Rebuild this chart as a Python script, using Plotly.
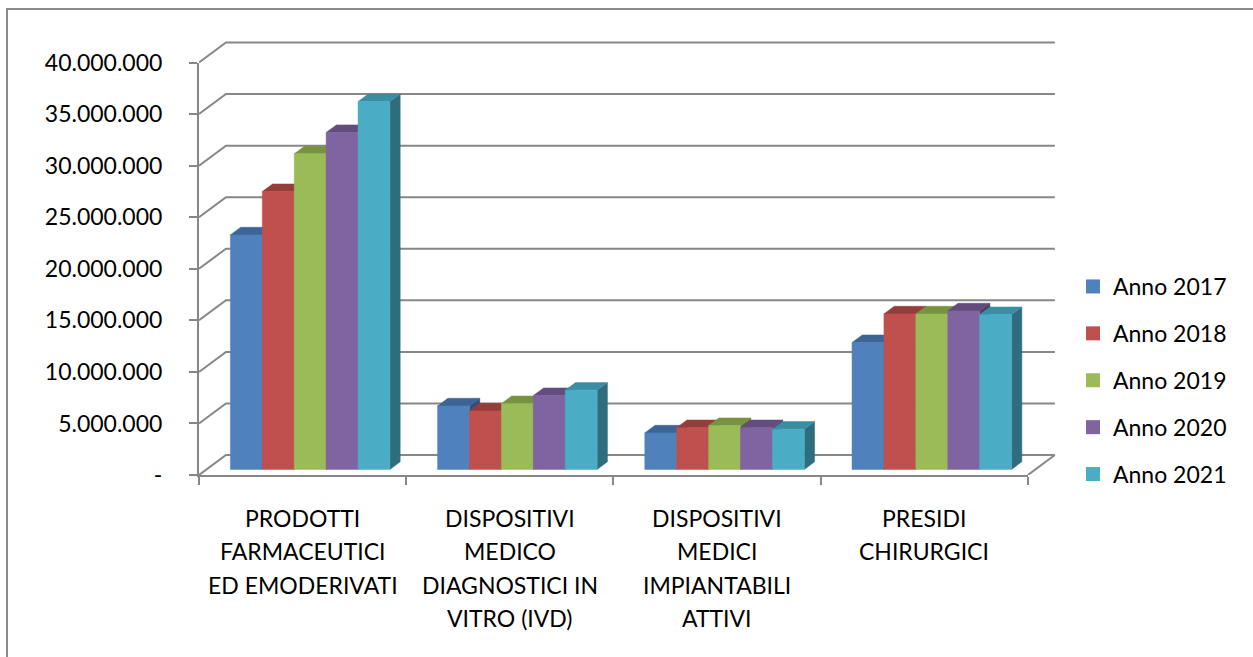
import plotly.graph_objects as go

# ---- data -------------------------------------------------------------
category_lines = [
    ["PRODOTTI", "FARMACEUTICI", "ED EMODERIVATI"],
    ["DISPOSITIVI", "MEDICO", "DIAGNOSTICI IN", "VITRO (IVD)"],
    ["DISPOSITIVI", "MEDICI", "IMPIANTABILI", "ATTIVI"],
    ["PRESIDI", "CHIRURGICI"],
]
series_names = ["Anno 2017", "Anno 2018", "Anno 2019", "Anno 2020", "Anno 2021"]
anno_2017 = [22_740_000, 6_160_000, 3_540_000, 12_300_000]
anno_2018 = [26_940_000, 5_670_000, 4_050_000, 15_080_000]
anno_2019 = [30_600_000, 6_380_000, 4_250_000, 15_080_000]
anno_2020 = [32_670_000, 7_160_000, 4_050_000, 15_370_000]
anno_2021 = [35_670_000, 7_680_000, 3_900_000, 15_010_000]
series_values = [anno_2017, anno_2018, anno_2019, anno_2020, anno_2021]
tick_vals = [0, 5_000_000, 10_000_000, 15_000_000, 20_000_000,
             25_000_000, 30_000_000, 35_000_000, 40_000_000]
tick_text = ["-", "5.000.000", "10.000.000", "15.000.000", "20.000.000",
             "25.000.000", "30.000.000", "35.000.000", "40.000.000"]

# ---- style ------------------------------------------------------------
front_colors = ["#4F81BD", "#C0504D", "#9BBB59", "#8064A2", "#4BACC6"]
top_colors = ["#3C6596", "#953D3A", "#78933F", "#634D7E", "#3A8EA3"]
side_colors = ["#2F5077", "#76302E", "#5F7532", "#4E3D64", "#2E6D7E"]
GRID = "#878787"
FONT = "Lato"

W, H = 1253, 657
ML, MT, MB = 199, 35, 182
N = len(category_lines)
VMAX = tick_vals[-1]
XR = 4.16                      # x range in category units (front axis + depth)
PX_PER_CAT = 207.25
MR = W - ML - round(XR * PX_PER_CAT)
PLOT_H = H - MT - MB
PX_PER_VAL = 412.5 / VMAX
YR = PLOT_H / PX_PER_VAL

# oblique projection of the depth axis
DX = 27 / PX_PER_CAT
DY = 20 / PX_PER_VAL
BAR_FRONT, BAR_BACK = 0.28, 0.66   # depth fractions occupied by the bars
BAR_OFF, BAR_W = 0.115, 0.154      # within a category slot

fig = go.Figure()

# back wall + floor grid with connectors to the front axis
gx, gy = [], []
for v in tick_vals:
    gx += [0, DX, N + DX, None]
    gy += [v, v + DY, v + DY, None]
gx += [N, N + DX, None]
gy += [0, DY, None]
fig.add_trace(go.Scatter(x=gx, y=gy, mode="lines", line=dict(color=GRID, width=2),
                         hoverinfo="skip", showlegend=False))

# bars: side, top, front faces
fx0, fy0 = BAR_FRONT * DX, BAR_FRONT * DY
ddx, ddy = (BAR_BACK - BAR_FRONT) * DX, (BAR_BACK - BAR_FRONT) * DY
for j, vals in enumerate(series_values):
    sx, sy, tx, ty, qx, qy = [], [], [], [], [], []
    for i, v in enumerate(vals):
        x0 = i + BAR_OFF + j * BAR_W + fx0
        x1 = x0 + BAR_W
        y0 = fy0
        y1 = fy0 + v
        qx += [x0, x1, x1, x0, x0, None]
        qy += [y0, y0, y1, y1, y0, None]
        tx += [x0, x1, x1 + ddx, x0 + ddx, x0, None]
        ty += [y1, y1, y1 + ddy, y1 + ddy, y1, None]
        sx += [x1, x1 + ddx, x1 + ddx, x1, x1, None]
        sy += [y0, y0 + ddy, y1 + ddy, y1, y0, None]
    for xs, ys, col in ((sx, sy, side_colors[j]), (tx, ty, top_colors[j]),
                        (qx, qy, front_colors[j])):
        fig.add_trace(go.Scatter(x=xs, y=ys, mode="lines", fill="toself",
                                 fillcolor=col, line=dict(color=col, width=0.5),
                                 hoverinfo="skip", showlegend=False))

# legend entries
for j, name in enumerate(series_names):
    fig.add_trace(go.Scatter(x=[None], y=[None], mode="markers", name=name,
                             legendgroup=name,
                             marker=dict(symbol="square", size=14, color=front_colors[j])))

# front axes live on their own subplot so their lines stop at the data extent
fig.add_trace(go.Scatter(x=[None], y=[None], xaxis="x2", yaxis="y2",
                         showlegend=False, hoverinfo="skip"))

# category labels, one annotation per line
for i, lines in enumerate(category_lines):
    for k, line in enumerate(lines):
        fig.add_annotation(x=i + 0.5, xref="x2", y=0, yref="paper",
                           yanchor="top", yshift=-27 - 33.3 * k, text=line,
                           showarrow=False, font=dict(family=FONT, size=23, color="#000"))

# outer chart frame (left and top edges)
PW = W - ML - MR
def px_x(p):
    return (p - ML) / PW
def px_y(p):
    return (H - MB - p) / PLOT_H
fig.add_shape(type="line", xref="paper", yref="paper",
              x0=px_x(7), x1=px_x(7), y0=px_y(9), y1=px_y(H + 5),
              line=dict(color="#8a8a8a", width=2))
fig.add_shape(type="line", xref="paper", yref="paper",
              x0=px_x(6), x1=px_x(W + 5), y0=px_y(9), y1=px_y(9),
              line=dict(color="#8a8a8a", width=2))

fig.update_layout(
    width=W, height=H,
    margin=dict(l=ML, r=MR, t=MT, b=MB, pad=0),
    paper_bgcolor="white", plot_bgcolor="rgba(0,0,0,0)",
    font=dict(family=FONT, size=23, color="#000"),
    xaxis=dict(domain=[0, 1], range=[0, XR], visible=False, fixedrange=True),
    yaxis=dict(domain=[0, 1], range=[0, YR], visible=False, fixedrange=True),
    xaxis2=dict(domain=[0, N / XR], range=[0, N], anchor="y2",
                tickvals=list(range(N + 1)), ticks="outside", ticklen=8,
                tickwidth=2, tickcolor=GRID, showticklabels=False,
                showline=True, linecolor=GRID, linewidth=2,
                showgrid=False, zeroline=False, fixedrange=True),
    yaxis2=dict(domain=[0, VMAX / YR], range=[0, VMAX], anchor="x2",
                tickvals=tick_vals, ticktext=tick_text, ticks="outside",
                ticklen=8, tickwidth=2, tickcolor=GRID, ticklabelstandoff=22,
                showline=True, linecolor=GRID, linewidth=2,
                showgrid=False, zeroline=False, fixedrange=True,
                tickfont=dict(family=FONT, size=23, color="#000")),
    legend=dict(x=px_x(1073), xanchor="left", y=px_y(265), yanchor="top",
                traceorder="grouped", tracegroupgap=14, itemwidth=30,
                font=dict(family=FONT, size=23, color="#000"),
                bgcolor="rgba(0,0,0,0)"),
    showlegend=True,
)

fig.write_html("out.html")
